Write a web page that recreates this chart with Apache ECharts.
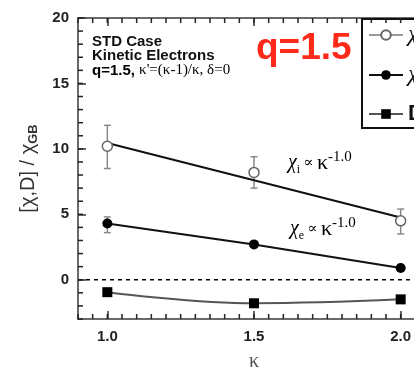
<!DOCTYPE html>
<html><head><meta charset="utf-8">
<script src="https://cdn.jsdelivr.net/npm/echarts@6/dist/echarts.min.js"></script>
<style>html,body{margin:0;padding:0;background:#fff}#c{width:414px;height:369px}</style>
</head><body><div id="c"></div>
<script>
// ---- data ----
const kappa = [1.0, 1.5, 2.0];
const chiI = [10.2, 8.2, 4.5];
const chiIErrLow = [8.5, 7.0, 3.5];
const chiIErrHigh = [11.8, 9.4, 5.4];
const chiIFitKappa = [1.0, 2.0];
const chiIFit = [10.45, 4.75];
const chiE = [4.3, 2.7, 0.9];
const chiEErrKappa = [1.0];
const chiEErrLow = [3.6];
const chiEErrHigh = [4.8];
const D = [-0.95, -1.8, -1.5];
const zeroLineKappa = [0.9, 2.1];
const zeroLineValue = [0, 0];
const xTickValues = [1.0, 1.5, 2.0];
const yTickValues = [0, 5, 10, 15, 20];

// minor tick positions (axis decoration only)
const xMinorTicks = Array.from({ length: 25 }, (_, i) => Math.round((0.9 + i * 0.05) * 100) / 100);
const yMinorTicks = Array.from({ length: 24 }, (_, i) => -3 + i);

const pairs = (xs, ys) => xs.map((x, i) => [x, ys[i]]);
const triples = (xs, a, b) => xs.map((x, i) => [x, a[i], b[i]]);

function errRender(params, api) {
  const x = api.value(0), lo = api.value(1), hi = api.value(2);
  const pLo = api.coord([x, lo]), pHi = api.coord([x, hi]);
  const w = 3.5;
  const style = { stroke: '#8a8a8a', lineWidth: 1.5 };
  return { type: 'group', children: [
    { type: 'line', shape: { x1: pLo[0], y1: pLo[1], x2: pHi[0], y2: pHi[1] }, style },
    { type: 'line', shape: { x1: pLo[0] - w, y1: pLo[1], x2: pLo[0] + w, y2: pLo[1] }, style },
    { type: 'line', shape: { x1: pHi[0] - w, y1: pHi[1], x2: pHi[0] + w, y2: pHi[1] }, style }
  ]};
}
const tickStyle = { stroke: '#222', lineWidth: 1.5 };
function xMinorRender(params, api) {
  const top = api.coord([api.value(0), 20]);
  const bot = api.coord([api.value(0), -3]);
  return { type: 'group', children: [
    { type: 'line', shape: { x1: bot[0], y1: bot[1], x2: bot[0], y2: bot[1] - 5 }, style: tickStyle },
    { type: 'line', shape: { x1: top[0], y1: top[1], x2: top[0], y2: top[1] + 5 }, style: tickStyle }
  ]};
}
function yMinorRender(params, api) {
  const p = api.coord([0.9, api.value(1)]);
  return { type: 'line', shape: { x1: p[0], y1: p[1], x2: p[0] + 5, y2: p[1] }, style: tickStyle };
}

const FONT = 'Liberation Sans, Arial, sans-serif';
const SERIF = 'Liberation Serif, DejaVu Serif, serif';
const axisLine = (show) => ({ show: show, onZero: false, lineStyle: { color: '#6a6a6a', width: 2 } });
const majorTick = (vals) => ({ show: true, customValues: vals, inside: true, length: 8, lineStyle: { color: '#333', width: 1.5 } });
const labelStyle = { fontFamily: FONT, fontWeight: 'bold', fontSize: 15, color: '#222' };

const annRich = (sub) => ({
  text: '{c|χ}{s|' + sub + '} {p|∝} {k|κ}{u|-1.0}',
  rich: { c: { fontFamily: SERIF, fontStyle: 'italic', fontSize: 20, color: '#666', lineHeight: 26, verticalAlign: 'middle' },
          s: { fontFamily: SERIF, fontSize: 12, color: '#666', verticalAlign: 'bottom' },
          p: { fontFamily: SERIF, fontSize: 15, color: '#777', verticalAlign: 'middle' },
          k: { fontFamily: SERIF, fontSize: 22, color: '#666', verticalAlign: 'middle' },
          u: { fontFamily: SERIF, fontSize: 15, color: '#666', verticalAlign: 'top' } }
});

const chart = echarts.init(document.getElementById('c'), null, { renderer: 'canvas' });
chart.setOption({
  animation: false,
  backgroundColor: '#fff',
  grid: { left: 78, top: 18, right: -16, bottom: 50, containLabel: false, outerBoundsMode: 'none' },
  xAxis: [
    { type: 'value', min: 0.9, max: 2.1, position: 'bottom',
      axisLine: axisLine(true), axisTick: majorTick(xTickValues),
      axisLabel: Object.assign({ customValues: xTickValues, formatter: v => v.toFixed(1), margin: 10 }, labelStyle),
      splitLine: { show: false },
      name: 'κ', nameLocation: 'middle', nameGap: 33,
      nameTextStyle: { fontFamily: SERIF, fontSize: 20, color: '#555' } },
    { type: 'value', min: 0.9, max: 2.1, position: 'top',
      axisLine: axisLine(true), axisTick: majorTick(xTickValues),
      axisLabel: { show: false }, splitLine: { show: false } }
  ],
  yAxis: [
    { type: 'value', min: -3, max: 20, position: 'left',
      axisLine: axisLine(true), axisTick: majorTick(yTickValues),
      axisLabel: Object.assign({ customValues: yTickValues, margin: 9 }, labelStyle),
      splitLine: { show: false },
      name: '{a|[χ,D] / χ}{b|GB}', nameLocation: 'middle', nameGap: 38, nameRotate: 90,
      nameTextStyle: { fontFamily: FONT, fontSize: 20, color: '#333',
        rich: { a: { fontFamily: FONT, fontSize: 20, color: '#333', verticalAlign: 'middle' },
                b: { fontFamily: FONT, fontSize: 13, color: '#333', fontWeight: 'bold', verticalAlign: 'bottom', padding: [10, 0, 0, 0] } } } }
  ],
  legend: {
    orient: 'vertical', left: 362, top: 19,
    padding: [4, 30, 3, 6], itemGap: 16, itemWidth: 34, itemHeight: 12,
    borderColor: '#111', borderWidth: 2, backgroundColor: '#fff',
    data: [
      { name: 'χi', lineStyle: { color: '#9a9a9a', width: 2, opacity: 1 } },
      { name: 'χe' },
      { name: 'D' }
    ],
    formatter: n => n === 'D' ? '{d|D}' : '{c|χ}{s|' + n.slice(1) + '}',
    textStyle: { fontSize: 20, color: '#111', lineHeight: 20,
      rich: { c: { fontFamily: SERIF, fontStyle: 'italic', fontSize: 24, color: '#111' },
              s: { fontFamily: SERIF, fontSize: 12, color: '#111', verticalAlign: 'bottom' },
              d: { fontFamily: FONT, fontWeight: 'bold', fontSize: 22, color: '#111' } } }
  },
  series: [
    { type: 'custom', name: 'xminor', renderItem: xMinorRender, data: xMinorTicks.map(v => [v, 0]), silent: true, z: 10 },
    { type: 'custom', name: 'yminor', renderItem: yMinorRender, data: yMinorTicks.map(v => [1, v]), silent: true, z: 10 },
    { type: 'line', name: 'zero', data: pairs(zeroLineKappa, zeroLineValue), symbol: 'none', silent: true,
      lineStyle: { color: '#000', type: [4, 4], width: 1.5 }, z: 1 },
    { type: 'custom', name: 'χi err', renderItem: errRender, data: triples(kappa, chiIErrLow, chiIErrHigh), z: 2, silent: true },
    { type: 'custom', name: 'χe err', renderItem: errRender, data: triples(chiEErrKappa, chiEErrLow, chiEErrHigh), z: 2, silent: true },
    { type: 'line', name: 'χi fit', data: pairs(chiIFitKappa, chiIFit), symbol: 'none',
      lineStyle: { color: '#111', width: 2 }, z: 3 },
    { type: 'line', name: 'χi', data: pairs(kappa, chiI), symbol: 'circle', symbolSize: 10,
      lineStyle: { width: 0, opacity: 0 },
      itemStyle: { color: '#fff', borderColor: '#666', borderWidth: 1.5 }, z: 5 },
    { type: 'line', name: 'χe', data: pairs(kappa, chiE), symbol: 'circle', symbolSize: 10,
      lineStyle: { color: '#111', width: 2 }, itemStyle: { color: '#000' }, z: 5 },
    { type: 'line', name: 'D', data: pairs(kappa, D), symbol: 'rect', symbolSize: 10, smooth: 0.4,
      lineStyle: { color: '#555', width: 2 }, itemStyle: { color: '#000' }, z: 5 }
  ],
  graphic: [
    { type: 'text', left: 92, top: 34, style: { text: 'STD Case\nKinetic Electrons', font: 'bold 15px ' + FONT, fill: '#111', lineHeight: 14 } },
    { type: 'text', left: 92, top: 63, style: {
        text: '{a|q=1.5, }{b|κ\'=(κ-1)/κ, δ=0}', lineHeight: 14,
        rich: { a: { fontFamily: FONT, fontWeight: 'bold', fontSize: 15, color: '#111' },
                b: { fontFamily: SERIF, fontSize: 15, color: '#666' } } } },
    { type: 'text', left: 256, top: 30, style: { text: 'q=1.5', font: 'bold 37px ' + FONT, fill: '#ff2a1a' } },
    { type: 'text', left: 288, top: 150, style: annRich('i') },
    { type: 'text', left: 290, top: 216, style: annRich('e') }
  ]
});
</script>
</body></html>
